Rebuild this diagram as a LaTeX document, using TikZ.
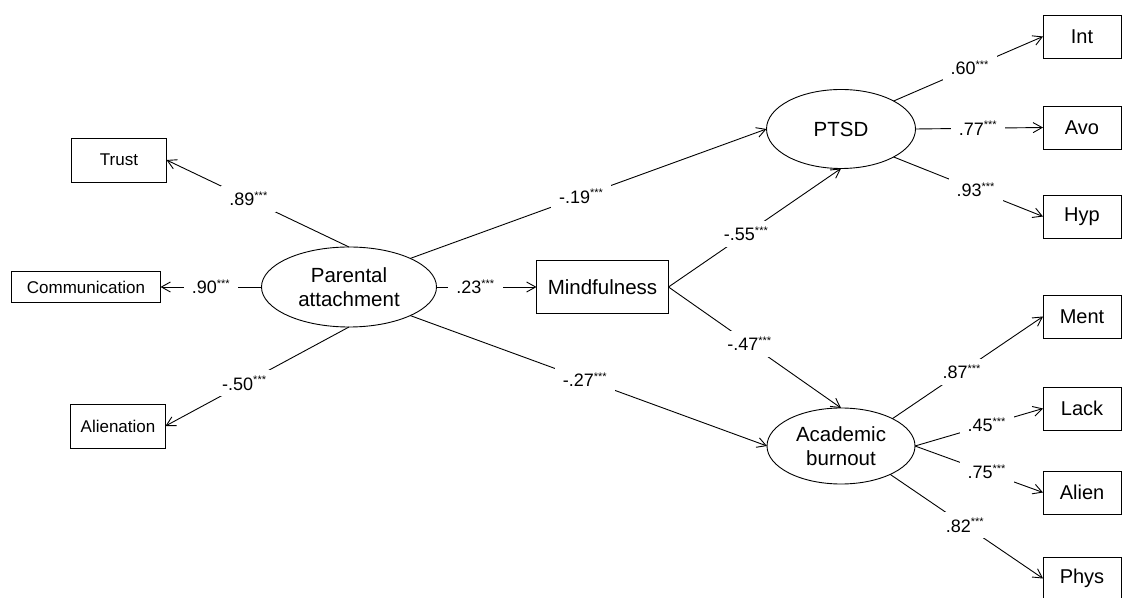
\documentclass[tikz,border=0pt]{standalone}
\usepackage{fontspec}
\setmainfont{Liberation Sans}
\usepackage{tikz}
\usetikzlibrary{arrows.meta,shapes.geometric,positioning}

\newcommand{\coef}[1]{#1\textsuperscript{\fontsize{11}{11}\selectfont ***}}

\begin{document}
\begin{tikzpicture}[
    x=1pt, y=1pt,
    latent/.style={ellipse, draw, line width=0.9pt, inner sep=0pt, outer sep=0pt, align=center, font=\fontsize{20.5}{24}\selectfont},
    obs/.style={rectangle, draw, line width=0.9pt, inner sep=0pt, outer sep=0pt, align=center},
    dim/.style={obs, minimum width=95pt, minimum height=44pt, font=\fontsize{17}{20}\selectfont},
    ind/.style={obs, minimum width=78pt, minimum height=43pt, font=\fontsize{20}{24}\selectfont},
    coef/.style={fill=white, inner xsep=8pt, inner ysep=6pt, font=\fontsize{18}{20}\selectfont},
    path/.style={line width=0.9pt, -{Straight Barb[length=9pt,width=10pt]}}
  ]
    \useasboundingbox (0,0) rectangle (1123,597);
    \clip (0,0) rectangle (1123,597);

    % Nodes
    \node[latent, minimum width=175pt, minimum height=80pt] (par) at (349,310) {Parental\\attachment};
    \node[dim] (trust) at (119,437) {Trust};
    \node[dim, minimum width=149pt, minimum height=31pt, left=101pt of par] (comm) {Communication};
    \node[dim] (alien) at (118,171) {Alienation};
    \node[obs, minimum width=132pt, minimum height=53pt, right=100pt of par, font=\fontsize{20.5}{24}\selectfont] (mind) {Mindfulness};
    \node[latent, minimum width=149pt, minimum height=79pt] (ptsd) at (841,468) {PTSD};
    \node[latent, minimum width=148pt, minimum height=76pt] (acad) at (841,151) {Academic\\burnout};
    \node[ind] (int) at (1082,560.5) {Int};
    \node[ind, below=48pt of int] (avo) {Avo};
    \node[ind, below=46pt of avo] (hyp) {Hyp};
    \node[ind, below=57pt of hyp] (ment) {Ment};
    \node[ind, below=49pt of ment] (lack) {Lack};
    \node[ind, below=41pt of lack] (alienb) {Alien};
    \node[ind, below=43pt of alienb] (phys) {Phys};

    % Arrows
    \draw[path] (par.north) -- node[coef, pos=0.55] {\coef{.89}} (trust.east);
    \draw[path] (par.west) -- node[coef] {\coef{.90}} (comm.east);
    \draw[path] (par.south) -- node[coef, pos=0.57] {\coef{-.50}} (alien.east);
    \draw[path] (par.east) -- node[coef, pos=0.39] {\coef{.23}} (mind.west);
    \draw[path] (par.25) -- node[coef, pos=0.48] {\coef{-.19}} (ptsd.west);
    \draw[path] (par.-25) -- node[coef, pos=0.49] {\coef{-.27}} (acad.west);
    \draw[path] (mind.east) -- node[coef, pos=0.45] {\coef{-.55}} (ptsd.south);
    \draw[path] (mind.east) -- node[coef, pos=0.47] {\coef{-.47}} (acad.north);
    \draw[path] (ptsd.28) -- node[coef, pos=0.51] {\coef{.60}} (int.west);
    \draw[path] (ptsd.east) -- node[coef, pos=0.49] {\coef{.77}} (avo.west);
    \draw[path] (ptsd.-28) -- node[coef, pos=0.55] {\coef{.93}} (hyp.west);
    \draw[path] (acad.28) -- node[coef, pos=0.46] {\coef{.87}} (ment.west);
    \draw[path] (acad.east) -- node[coef, pos=0.56] {\coef{.45}} (lack.west);
    \draw[path] (acad.east) -- node[coef, pos=0.56] {\coef{.75}} (alienb.west);
    \draw[path] (acad.-30) -- node[coef, pos=0.49] {\coef{.82}} (phys.west);
  \end{tikzpicture}
\end{document}
